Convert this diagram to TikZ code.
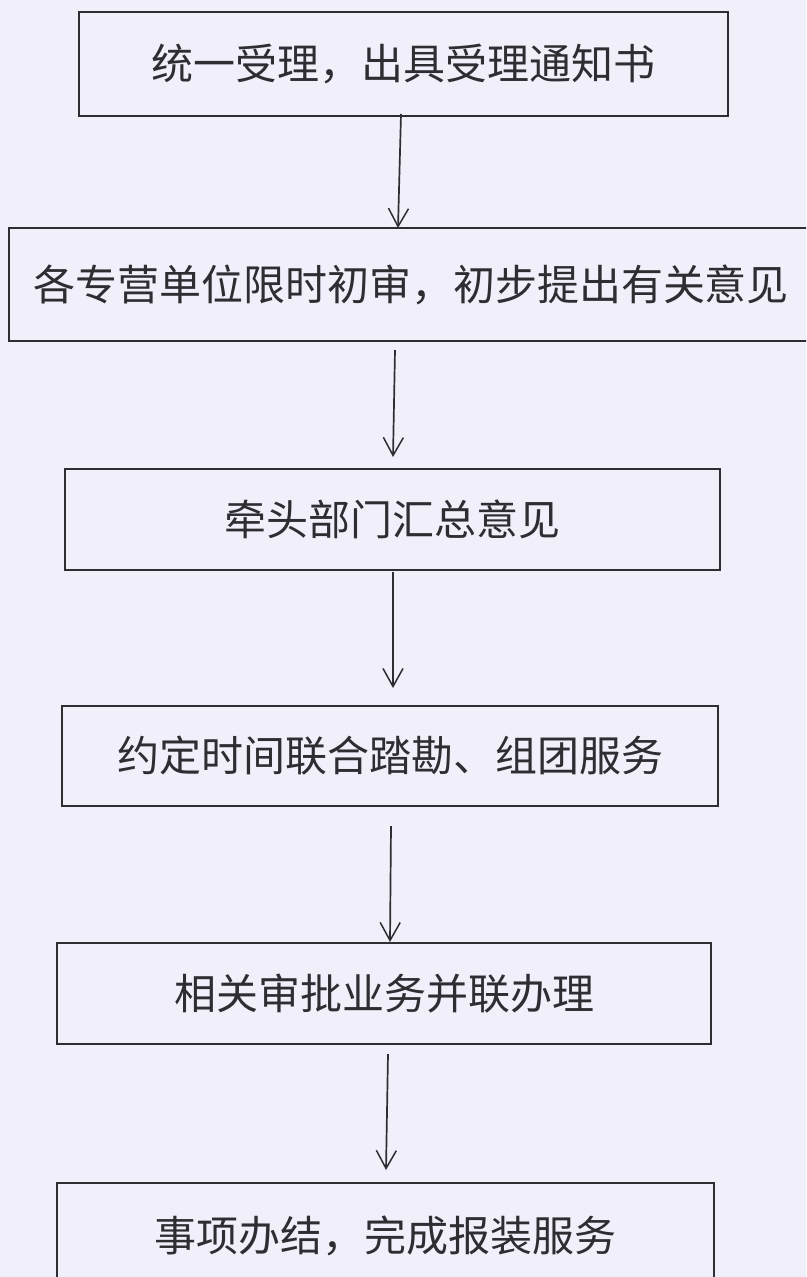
\documentclass[tikz,border=0pt]{standalone}
\usepackage{fontspec}
\newfontfamily\cjk{Noto Sans CJK SC}
\usetikzlibrary{arrows.meta}
\definecolor{paper}{RGB}{241,240,250}
\definecolor{ink}{RGB}{45,45,50}
\tikzset{
  stepbox/.style={draw=ink, line width=1.5pt, rectangle, inner sep=0pt, font=\cjk\fontsize{42}{48}\selectfont, text=ink},
  flow/.style={draw=ink, line width=1.7pt, -{Straight Barb[length=18pt,width=20pt,line width=1.5pt]}},
}
\begin{document}
\begin{tikzpicture}[x=1pt,y=-1pt]
\fill[paper] (0,0) rectangle (806,1277);
\useasboundingbox (0,0) rectangle (806,1277);
\begin{scope}
\clip (0,0) rectangle (806,1277);
\node[stepbox, minimum width=649pt, minimum height=104pt] (b1) at (403.5,64) {统一受理，出具受理通知书};
\node[stepbox, minimum width=804pt, minimum height=113pt] (b2) at (411,284.5) {各专营单位限时初审，初步提出有关意见};
\node[stepbox, minimum width=655pt, minimum height=101pt] (b3) at (392.5,519.5) {牵头部门汇总意见};
\node[stepbox, minimum width=656pt, minimum height=100pt] (b4) at (390,756) {约定时间联合踏勘、组团服务};
\node[stepbox, minimum width=654pt, minimum height=101pt] (b5) at (384,993.5) {相关审批业务并联办理};
\node[stepbox, minimum width=657pt, minimum height=106pt] (b6) at (385.5,1236) {事项办结，完成报装服务};
\end{scope}
\coordinate (s1) at (401,114);
\coordinate (e1) at (398,228);
\coordinate (s2) at (395,350);
\coordinate (e2) at (393,457);
\coordinate (s3) at (393,572);
\coordinate (e3) at (393,688);
\coordinate (s4) at (391,826);
\coordinate (e4) at (390,942);
\coordinate (s5) at (388,1054);
\coordinate (e5) at (386,1170);
\draw[flow] (s1) -- (e1);
\draw[flow] (s2) -- (e2);
\draw[flow] (s3) -- (e3);
\draw[flow] (s4) -- (e4);
\draw[flow] (s5) -- (e5);
\end{tikzpicture}
\end{document}
